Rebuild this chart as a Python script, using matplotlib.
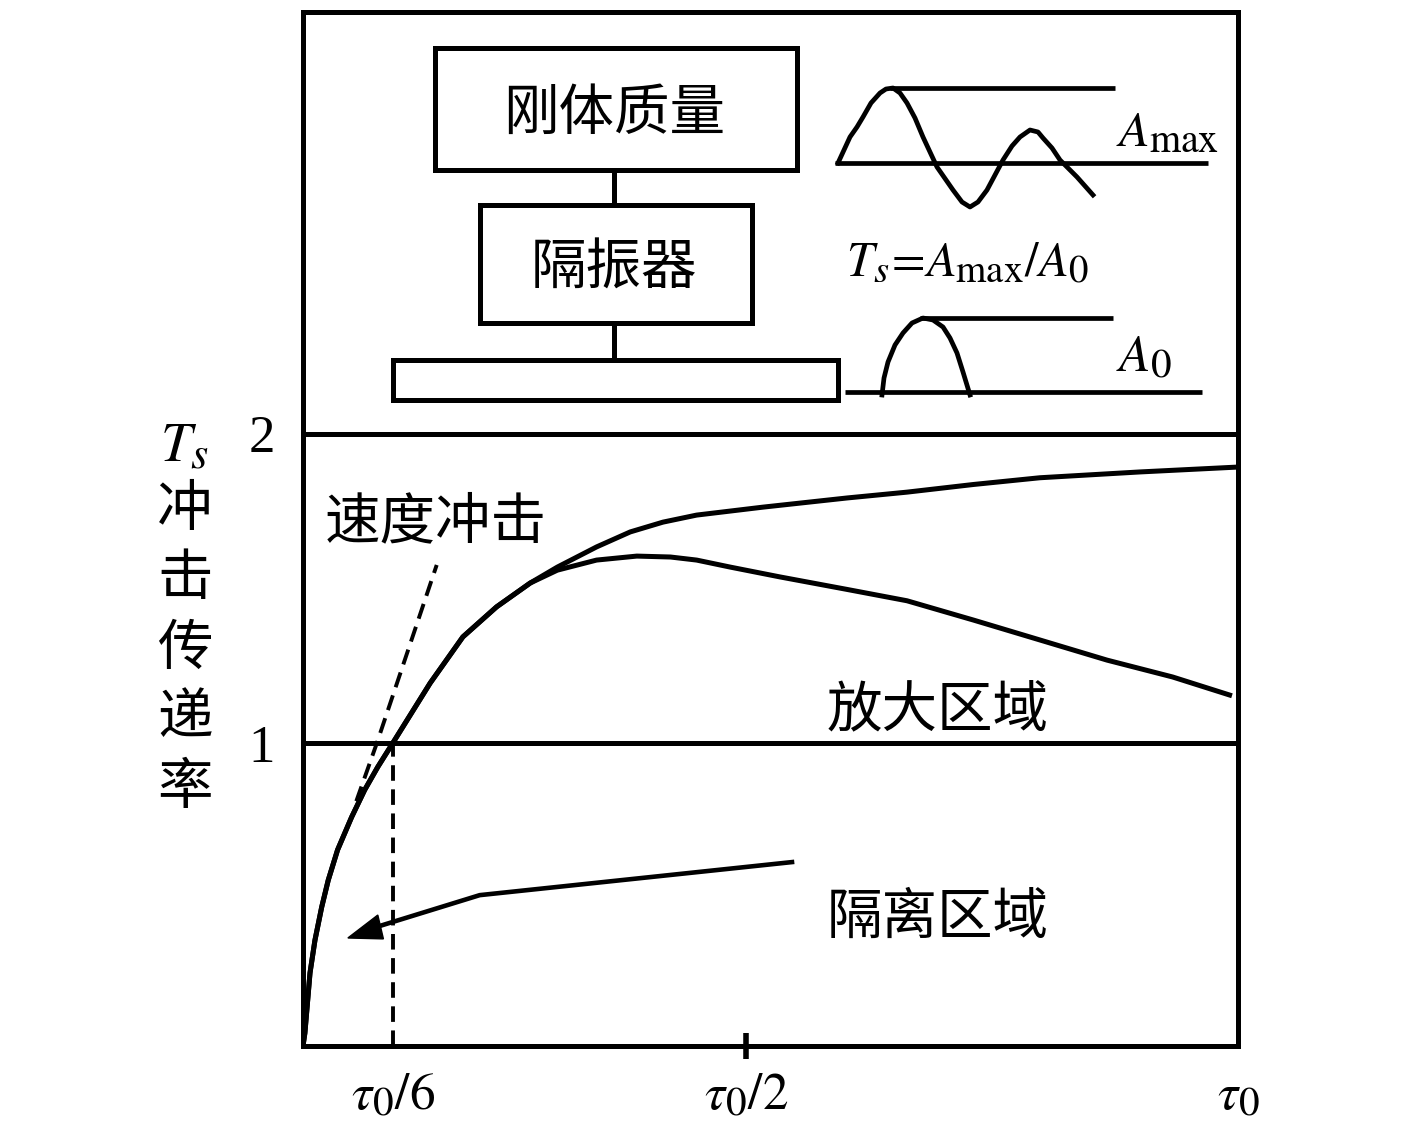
import numpy as np
import matplotlib
matplotlib.use('Agg')
import matplotlib.pyplot as plt
import matplotlib._mathtext as mtext
from matplotlib.patches import Rectangle, Polygon

plt.rcParams['font.family'] = ['Noto Sans CJK SC', 'DejaVu Sans']
plt.rcParams['mathtext.fontset'] = 'stix'
# subscripts in the original are drawn larger than mathtext's default
mtext.SHRINK_FACTOR = 0.8

# Curve data (x as fraction of tau0, y = Ts)
upper_x = [0.0, 0.002, 0.0075, 0.0128, 0.020, 0.027, 0.037, 0.052, 0.066, 0.080, 0.095,
           0.136, 0.171, 0.207, 0.243, 0.272, 0.314, 0.350, 0.385, 0.421, 0.492,
           0.582, 0.646, 0.717, 0.788, 0.895, 1.0]
upper_y = [0.0, 0.042, 0.239, 0.346, 0.454, 0.542, 0.641, 0.748, 0.837, 0.912, 0.985,
           1.186, 1.337, 1.435, 1.513, 1.565, 1.631, 1.680, 1.712, 1.735, 1.761,
           1.791, 1.810, 1.835, 1.857, 1.876, 1.892]

lower_x = [0.0, 0.002, 0.0075, 0.0128, 0.020, 0.027, 0.037, 0.052, 0.066, 0.080, 0.095,
           0.136, 0.171, 0.207, 0.243, 0.272, 0.314, 0.357, 0.393, 0.421, 0.457,
           0.510, 0.582, 0.646, 0.717, 0.788, 0.860, 0.930, 0.991]
lower_y = [0.0, 0.042, 0.239, 0.346, 0.454, 0.542, 0.641, 0.748, 0.837, 0.912, 0.985,
           1.186, 1.337, 1.435, 1.513, 1.555, 1.588, 1.601, 1.598, 1.588, 1.565,
           1.533, 1.492, 1.455, 1.392, 1.327, 1.261, 1.206, 1.147]

# velocity shock dashed line
vel_x = [0.057, 0.079, 0.143]
vel_y = [0.80, 0.99, 1.572]

# tau0/6 marker line
t6_x = [0.096, 0.096]
t6_y = [0.0, 0.99]

# arrow to isolation region
arrow_x = [0.523, 0.189, 0.085]
arrow_y = [0.601, 0.493, 0.395]
head_xy = [(0.048, 0.353), (0.080, 0.428), (0.086, 0.350)]

xtick_pos = [0.096, 0.474, 1.0]
xtick_lab = [r'$\tau_0/6$', r'$\tau_0/2$', r'$\tau_0$']
ytick_pos = [0.99, 2]
ytick_lab = ['1', '2']

# schematic (pixel coordinates of the figure)
boxes = [(435, 48, 362, 122), (480, 205, 272, 118), (393, 360, 445, 40)]
box_text = ['刚体质量', '隔振器']
connectors = [((614, 614), (170, 205)), ((614, 614), (323, 360))]
wave1_x = [838, 844, 850, 857, 863, 871, 880, 886, 893, 900, 907, 915, 923, 937, 953, 962, 970,
           978, 987, 1003, 1012, 1020, 1030, 1038, 1043, 1052, 1060, 1077, 1093]
wave1_y = [163, 150, 137, 127, 117, 103, 93, 89, 88, 93, 103, 118, 137, 167, 190, 202, 207,
           202, 190, 160, 146, 137, 130, 132, 138, 148, 160, 177, 195]
wave2_x = [882, 884, 888, 895, 903, 912, 923, 933, 943, 950, 957, 963, 970]
wave2_y = [395, 378, 362, 345, 333, 323, 318, 320, 327, 338, 353, 372, 395]
ref_lines = [((835, 1208), (163, 163)), ((890, 1115), (88, 88)),
             ((845, 1202), (392, 392)), ((920, 1113), (318, 318))]

W, H = 1417, 1141
fig = plt.figure(figsize=(W / 100, H / 100), dpi=100)
L, R, T, B = 303, 1238, 12, 1046
ax = fig.add_axes([L / W, 1 - B / H, (R - L) / W, (B - T) / H])
ax.set_xlim(0, 1)
ax.set_ylim(0, (B - T) / 306)

lw = 3.6
dash = (0, (4.0, 2.2))
ax.plot(upper_x, upper_y, 'k', lw=lw, solid_joinstyle='round')
ax.plot(lower_x, lower_y, 'k', lw=lw, solid_joinstyle='round')
ax.plot(vel_x, vel_y, 'k', lw=2.8, ls=dash)
ax.plot(t6_x, t6_y, 'k', lw=2.8, ls=dash)
ax.axhline(0.99, color='k', lw=lw)
ax.axhline(2, color='k', lw=lw)
ax.plot(arrow_x, arrow_y, 'k', lw=3.3)
ax.add_patch(Polygon(head_xy, closed=True, color='k'))

for s in ax.spines.values():
    s.set_linewidth(3.6)

ax.set_xticks(xtick_pos)
ax.set_xticklabels(xtick_lab, fontsize=37)
ax.xaxis.remove_overlapping_locs = False
ax.set_xticks([0.474], minor=True)
ax.tick_params(axis='x', which='major', length=0, pad=16)
ax.tick_params(axis='x', which='minor', length=19, width=4, direction='inout')
ax.set_yticks(ytick_pos)
ax.set_yticklabels(ytick_lab, fontsize=38, family='Liberation Serif')
ax.tick_params(axis='y', length=0, pad=20)

ax.text(0.142, 1.712, '速度冲击', fontsize=40, ha='center', va='center')
ax.text(0.679, 1.095, '放大区域', fontsize=40, ha='center', va='center')
ax.text(0.679, 0.418, '隔离区域', fontsize=40, ha='center', va='center')

# overlay in pixel coordinates for the schematic and y label
ov = fig.add_axes([0, 0, 1, 1])
ov.set_xlim(0, W)
ov.set_ylim(H, 0)
ov.axis('off')
ov.patch.set_alpha(0)

for (x, y, w, h) in boxes:
    ov.add_patch(Rectangle((x, y), w, h, fill=False, lw=3.6, ec='k'))
ov.text(614, 114, box_text[0], fontsize=40, ha='center', va='center')
ov.text(614, 269, box_text[1], fontsize=40, ha='center', va='center')
for xs, ys in connectors:
    ov.plot(xs, ys, 'k', lw=3.6)
for xs, ys in ref_lines:
    ov.plot(xs, ys, 'k', lw=3.4, solid_capstyle='butt')
ov.plot(wave1_x, wave1_y, 'k', lw=3.4, solid_joinstyle='round')
ov.plot(wave2_x, wave2_y, 'k', lw=3.4, solid_joinstyle='round')
ov.text(1116, 145, r'$A_{\mathrm{max}}$', fontsize=36, ha='left', va='baseline')
ov.text(1116, 372, r'$A_0$', fontsize=37, ha='left', va='baseline')
ov.text(846, 262, r'$T_s\!=\!A_{\mathrm{max}}/A_0$', fontsize=35, ha='left', va='center')

ov.text(185, 445, r'$T_s$', fontsize=40, ha='center', va='center')
for i, ch in enumerate('冲击传递率'):
    ov.text(185, 510 + i * 69.5, ch, fontsize=40, ha='center', va='center')

fig.savefig('out.png', dpi=100)
